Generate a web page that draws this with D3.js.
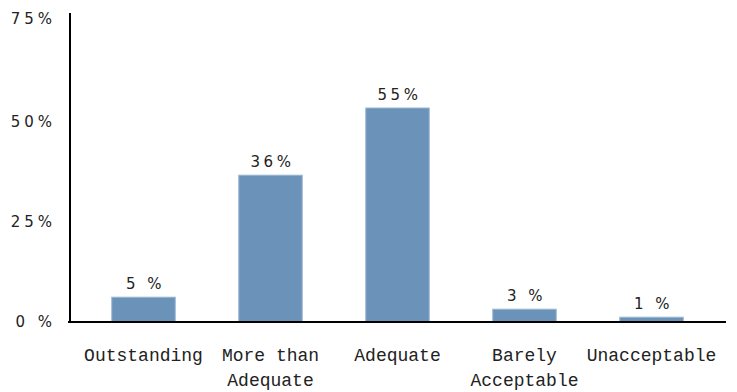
<!DOCTYPE html>
<html><head><meta charset="utf-8">
<script src="https://cdn.jsdelivr.net/npm/d3@7"></script>
<style>body{margin:0;background:#fff}</style>
</head><body><svg id="c" width="737" height="392"></svg>
<script>
const categories = [["Outstanding"], ["More than", "Adequate"], ["Adequate"], ["Barely", "Acceptable"], ["Unacceptable"]];
const values = [6.2, 36.7, 53.5, 3.2, 1.2];
const valueLabels = ["5 %", "36%", "55%", "3 %", "1 %"];
const yTicks = [0, 25, 50, 75];
const yTickLabels = ["0 %", "25%", "50%", "75%"];

const svg = d3.select("#c");
const x = d3.scaleBand().domain(d3.range(categories.length)).range([80, 715]).paddingInner(0.5).paddingOuter(0.25);
const y = d3.scaleLinear().domain([0, 75]).range([322, 22]);

svg.selectAll("rect.bar").data(values).join("rect")
  .attr("x", (d, i) => x(i)).attr("width", x.bandwidth())
  .attr("y", d => y(d)).attr("height", d => y(0) - y(d))
  .attr("fill", "#6b93b9").attr("stroke", "#9cb7d1").attr("stroke-width", 1);

svg.selectAll("text.val").data(values).join("text")
  .attr("x", (d, i) => x(i) + x.bandwidth() / 2 + 2)
  .attr("y", d => y(d) - 8)
  .attr("text-anchor", "middle")
  .style("font-family", "DejaVu Sans").style("font-size", "15px").style("letter-spacing", "3.5px")
  .attr("fill", "#222")
  .text((d, i) => valueLabels[i]);

// y axis
const yAxis = svg.append("g").attr("transform", "translate(70,0)")
  .call(d3.axisLeft(y).tickValues(yTicks).tickSize(0).tickPadding(14).tickFormat((d, i) => yTickLabels[i]));
yAxis.select(".domain").remove();
yAxis.selectAll("text").style("font-family", "DejaVu Sans").style("font-size", "15px")
  .style("letter-spacing", "4px").attr("fill", "#222");
yAxis.selectAll(".tick").filter(d => d === 75).select("text").attr("dy", "0.1em");
svg.append("line").attr("x1", 70).attr("x2", 70).attr("y1", 13).attr("y2", 323).attr("stroke", "#000").attr("stroke-width", 2);

// x axis
const xAxis = svg.append("g").attr("transform", "translate(0,322)")
  .call(d3.axisBottom(x).tickSize(0).tickFormat(""));
xAxis.select(".domain").remove();
svg.append("line").attr("x1", 68).attr("x2", 726).attr("y1", 322).attr("y2", 322).attr("stroke", "#000").attr("stroke-width", 2);

xAxis.selectAll(".tick").each(function(d) {
  const t = d3.select(this).append("text").attr("text-anchor", "middle")
    .style("font-family", "'Courier New', 'Liberation Mono', monospace").style("font-size", "18px").attr("fill", "#222");
  categories[d].forEach((line, j) => {
    t.append("tspan").attr("x", 0).attr("y", 39 + j * 25).text(line);
  });
});
</script></body></html>
